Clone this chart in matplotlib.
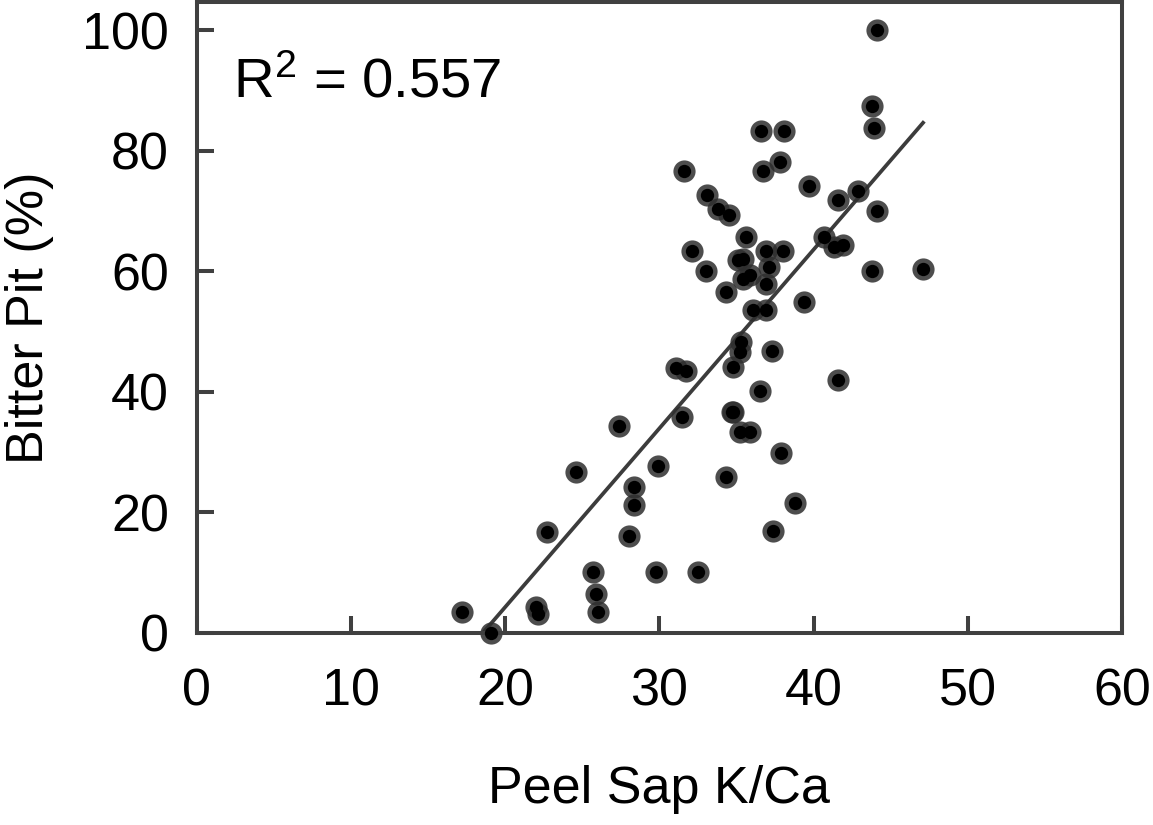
import numpy as np
import matplotlib
matplotlib.use("Agg")
import matplotlib.pyplot as plt

plt.rcParams['font.family'] = ['Liberation Sans', 'DejaVu Sans']
plt.rcParams['mathtext.fontset'] = 'custom'
plt.rcParams['mathtext.rm'] = 'Liberation Sans'
plt.rcParams['mathtext.default'] = 'rm'

# ---------------------------------------------------------------
# data (peel sap K/Ca vs bitter pit %)
# ---------------------------------------------------------------
k_ca = [17.2, 19.1, 22.0, 22.1, 22.7, 24.6, 25.7, 25.9, 26.0, 27.4,
        28.0, 28.35, 28.35, 29.8, 29.9, 31.5, 32.5, 34.3, 34.7, 34.8,
        35.2, 35.9, 36.5, 31.1, 31.7, 34.8, 35.2, 35.3, 37.3, 41.6,
        37.9, 38.8, 37.4, 36.1, 36.9, 39.4, 34.3, 33.0, 32.1, 35.1,
        35.4, 35.4, 35.9, 36.9, 37.1, 36.9, 38.0, 35.6, 40.7, 41.3,
        41.9, 43.8, 47.1, 33.1, 33.8, 34.5, 31.6, 36.7, 37.8, 36.6,
        38.1, 39.7, 41.6, 42.9, 44.1, 43.8, 43.9, 44.1]
bitter_pit = [3.4, 0.0, 4.2, 3.1, 16.7, 26.6, 10.0, 6.5, 3.4, 34.3,
              16.1, 24.2, 21.2, 10.0, 27.6, 35.8, 10.0, 25.8, 36.6, 36.7,
              33.3, 33.3, 40.1, 44.0, 43.4, 44.1, 46.6, 48.3, 46.7, 42.0,
              29.9, 21.5, 16.8, 53.6, 53.6, 54.9, 56.6, 60.0, 63.3, 61.8,
              62.1, 58.7, 59.3, 57.9, 60.7, 63.3, 63.3, 65.7, 65.7, 64.1,
              64.3, 60.0, 60.3, 72.7, 70.4, 69.3, 76.6, 76.6, 78.1, 83.3,
              83.3, 74.1, 71.9, 73.4, 70.0, 87.4, 83.8, 100.0]
r2_label = "R$^{2}$ = 0.557"
x_ticks = [0, 10, 20, 30, 40, 50, 60]
y_ticks = [0, 20, 40, 60, 80, 100]

x = np.array(k_ca)
y = np.array(bitter_pit)

fig = plt.figure(figsize=(11.53, 8.25), dpi=100)
ax = fig.add_axes([0.1706, 0.2331, 0.8025, 0.7645])

# linear trend line over the data range (clipped at y = 0 by the axes)
slope, intercept = np.polyfit(x, y, 1)
xl = np.array([x.min(), x.max()])
ax.plot(xl, slope * xl + intercept, color='#3c3c3c', lw=2.7, zorder=1)

# markers: translucent grey ring with a black core
ax.scatter(x, y, s=255, color='#2e2e2e', alpha=0.85, linewidths=0, zorder=2, clip_on=False)
ax.scatter(x, y, s=92, color='black', linewidths=0, zorder=3, clip_on=False)

ax.set_xlim(0, 60)
ax.set_ylim(0, 104.7)
ax.set_xticks(x_ticks)
ax.set_yticks(y_ticks)

for sp in ax.spines.values():
    sp.set_color('#404040')
    sp.set_linewidth(2.9)
ax.tick_params(direction='in', length=12, width=2.9, color='#404040',
               labelsize=37.5, labelcolor='black')
ax.tick_params(axis='x', pad=25)
ax.tick_params(axis='y', pad=20)

ax.set_xlabel("Peel Sap K/Ca", fontsize=37.5, va='baseline')
ax.xaxis.set_label_coords(0.5, -0.27)
ax.set_ylabel("Bitter Pit (%)", fontsize=37.5, va='center')
ax.yaxis.set_label_coords(-0.181, 0.5)

ax.text(2.35, 88.9, r2_label, fontsize=40.5, ha='left', va='baseline')

fig.savefig("out.png", dpi=100)
